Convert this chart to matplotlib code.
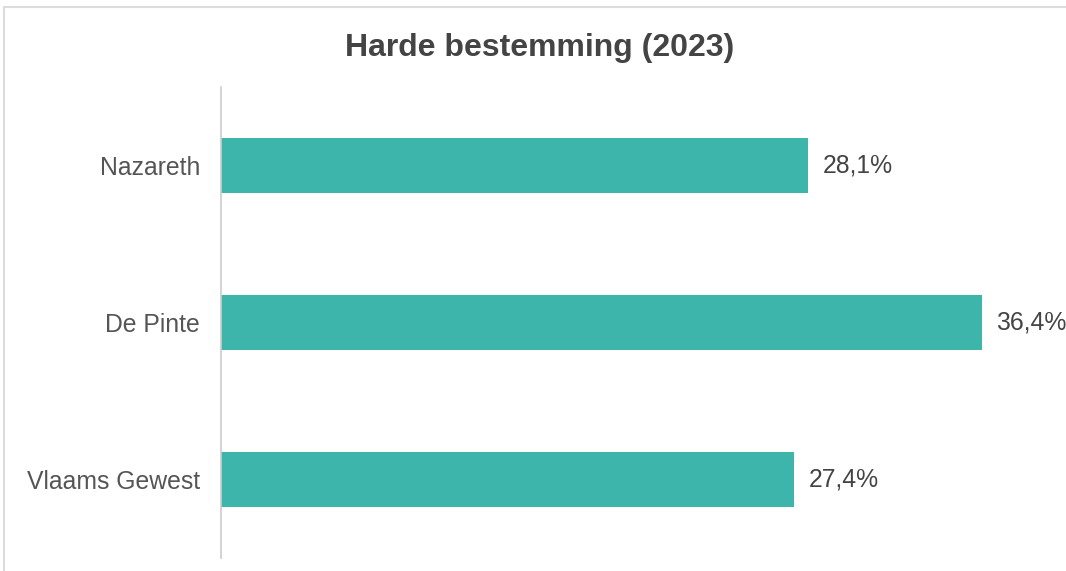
import matplotlib.pyplot as plt
from matplotlib.lines import Line2D

# gegevens
categories = ['Nazareth', 'De Pinte', 'Vlaams Gewest']
values = [28.1, 36.4, 27.4]
value_labels = ['28,1%', '36,4%', '27,4%']
title = 'Harde bestemming (2023)'

plt.rcParams['font.family'] = ['Liberation Sans', 'DejaVu Sans']

W, H = 1066, 571
fig = plt.figure(figsize=(W / 100, H / 100), dpi=100)
fig.patch.set_facecolor('white')

# kader rond de grafiek
fig.add_artist(Line2D([4 / W, 1], [1 - 7 / H, 1 - 7 / H], color='#dcdcdc', lw=1.5))
fig.add_artist(Line2D([4 / W, 4 / W], [0, 1 - 7 / H], color='#dcdcdc', lw=1.5))

left, right = 221, 1057
top, bottom = 87, 558
ax = fig.add_axes([left / W, 1 - bottom / H, (right - left) / W, (bottom - top) / H])

y = list(range(len(categories)))
ax.barh(y, values, height=0.35, color='#3eb5ab')
ax.set_ylim(len(categories) - 0.5, -0.5)
ax.set_xlim(0, 40)

for yi, v, lab in zip(y, values, value_labels):
    ax.text(v + 0.7, yi, lab, va='center', ha='left', fontsize=17.8, color='#444444')

ax.set_yticks(y)
ax.set_yticklabels(categories, fontsize=17.8, color='#555555')
ax.tick_params(axis='y', length=0, pad=15)
ax.set_xticks([])

for s in ['top', 'right', 'bottom']:
    ax.spines[s].set_visible(False)
ax.spines['left'].set_color('#cccccc')
ax.spines['left'].set_linewidth(1.2)

fig.text(540 / W, 1 - 48 / H, title, ha='center', va='center', fontsize=23,
         fontweight='bold', color='#444444')

fig.savefig('out.png', dpi=100)
